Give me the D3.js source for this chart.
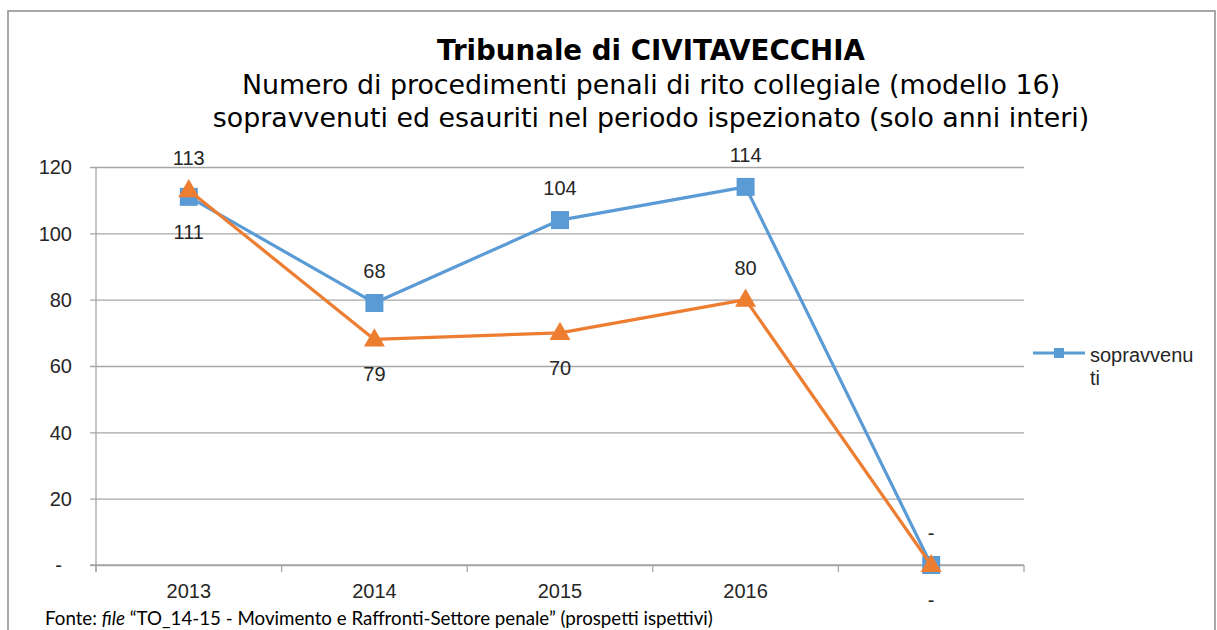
<!DOCTYPE html>
<html>
<head>
<meta charset="utf-8">
<script src="https://cdn.jsdelivr.net/npm/d3@7"></script>
<style>
  html, body { margin: 0; padding: 0; background: #fff; }
  svg { display: block; }
</style>
</head>
<body>
<svg id="chart" width="1217" height="630"></svg>
<script>
// ---------------- DATA ----------------
const categories = ["2013", "2014", "2015", "2016", ""];
const sopravvenuti = [111, 79, 104, 114, 0];
const esauriti = [113, 68, 70, 80, 0];
const yTicks = [0, 20, 40, 60, 80, 100, 120];
// data labels as they appear in the picture, per series
const sopravvenutiLabels = ["111", "68", "104", "114", "-"];
const esauritiLabels = ["113", "79", "70", "80", "-"];
const sopravvenutiLabelSide = ["below", "above", "above", "above", "above"];
const esauritiLabelSide = ["above", "below", "below", "above", "below"];
const titleLines = [
  "Tribunale di CIVITAVECCHIA",
  "Numero di procedimenti penali di rito collegiale (modello 16)",
  "sopravvenuti ed esauriti nel periodo ispezionato (solo anni interi)"
];
const legendLines = ["sopravvenu", "ti"];

// ---------------- LAYOUT ----------------
const svg = d3.select("#chart");
const W = 1217, H = 630;
const plot = { left: 96, right: 1024, top: 167, bottom: 565 };
const BLUE = "#5b9bd5", ORANGE = "#ed7d31", GRID = "#a6a6a6", TXT = "#262626";

// outer frame
svg.append("rect").attr("x", 8).attr("y", 11).attr("width", 1207).attr("height", 640)
  .attr("fill", "none").attr("stroke", "#8c8c8c").attr("stroke-width", 1.5);

const x = d3.scaleBand().domain(categories).range([plot.left, plot.right]).padding(0);
const y = d3.scaleLinear().domain([0, 120]).range([plot.bottom, plot.top]);
const cx = (i) => x(categories[i]) + x.bandwidth() / 2;

// gridlines + y axis
const yAxis = d3.axisLeft(y).tickValues(yTicks)
  .tickSize(plot.right - plot.left + 6)
  .tickFormat(d => d === 0 ? "-" : d3.format("d")(d));
const gy = svg.append("g").attr("transform", `translate(${plot.right},0)`).call(yAxis);
gy.select(".domain").remove();
gy.selectAll(".tick line").attr("stroke", GRID).attr("stroke-width", 1.3);
gy.selectAll(".tick text")
  .attr("x", -(plot.right - plot.left) - 24)
  .attr("font-family", "Liberation Sans, Arial, sans-serif")
  .attr("font-size", 20).attr("fill", TXT)
  .attr("dy", "0.34em");
gy.selectAll(".tick").filter(d => d === 0).select("text").attr("dx", -10);

// vertical axis line
svg.append("line").attr("x1", plot.left).attr("x2", plot.left)
  .attr("y1", plot.top).attr("y2", plot.bottom + 7)
  .attr("stroke", GRID).attr("stroke-width", 1.3);

// x axis with ticks between categories
const boundaries = categories.map((c) => x(c)).concat([plot.right]);
const xAxis = d3.axisBottom(d3.scaleLinear().domain([0, 1]).range([0, 1]));
const gx = svg.append("g").attr("transform", `translate(0,${plot.bottom})`);
gx.append("line").attr("x1", plot.left - 6).attr("x2", plot.right).attr("y1", 0).attr("y2", 0)
  .attr("stroke", GRID).attr("stroke-width", 1.3);
gx.selectAll("line.tk").data(boundaries).join("line").attr("class", "tk")
  .attr("x1", d => d).attr("x2", d => d).attr("y1", 0).attr("y2", 7)
  .attr("stroke", GRID).attr("stroke-width", 1.3);
gx.selectAll("text").data(categories).join("text")
  .attr("x", (d, i) => cx(i)).attr("y", 33)
  .attr("text-anchor", "middle")
  .attr("font-family", "Liberation Sans, Arial, sans-serif")
  .attr("font-size", 20).attr("fill", TXT)
  .text(d => d);

// lines
const line = d3.line().x((d, i) => cx(i)).y(d => y(d));
function drawSeries(vals, color, marker) {
  svg.append("path").datum(vals).attr("d", line)
    .attr("fill", "none").attr("stroke", color).attr("stroke-width", 3.2)
    .attr("stroke-linejoin", "round");
  const sym = marker === "square"
    ? d3.symbol().type(d3.symbolSquare).size(18 * 18)
    : d3.symbol().type(d3.symbolTriangle).size(190);
  svg.selectAll(null).data(vals).join("path")
    .attr("d", sym)
    .attr("transform", (d, i) => `translate(${cx(i)},${y(d) + (marker === "square" ? 0 : 1)})`)
    .attr("fill", color);
}
drawSeries(sopravvenuti, BLUE, "square");
drawSeries(esauriti, ORANGE, "triangle");

// data labels
function drawLabels(vals, labels, sides) {
  svg.selectAll(null).data(vals).join("text")
    .attr("x", (d, i) => cx(i))
    .attr("y", (d, i) => y(d) + (sides[i] === "above" ? -32 : 35))
    .attr("dy", "0.35em")
    .attr("text-anchor", "middle")
    .attr("font-family", "Liberation Sans, Arial, sans-serif")
    .attr("font-size", 20).attr("fill", TXT)
    .text((d, i) => labels[i]);
}
drawLabels(sopravvenuti, sopravvenutiLabels, sopravvenutiLabelSide);
drawLabels(esauriti, esauritiLabels, esauritiLabelSide);

// legend
const lg = svg.append("g").attr("transform", "translate(1033,353)");
lg.append("line").attr("x1", 0).attr("x2", 52).attr("y1", 0).attr("y2", 0)
  .attr("stroke", BLUE).attr("stroke-width", 3.2);
lg.append("path").attr("d", d3.symbol().type(d3.symbolSquare).size(100)())
  .attr("transform", "translate(26,0)").attr("fill", BLUE);
lg.selectAll("text").data(legendLines).join("text")
  .attr("x", 57).attr("y", (d, i) => 9 + i * 23)
  .attr("font-family", "Liberation Sans, Arial, sans-serif")
  .attr("font-size", 20).attr("fill", TXT)
  .text(d => d);

// title
function fit(sel, target) {
  const fs = parseFloat(sel.attr("font-size"));
  const w = sel.node().getComputedTextLength();
  sel.attr("font-size", fs * target / w);
}
const cxTitle = 651;
const t1 = svg.append("text").attr("x", cxTitle).attr("y", 60).attr("text-anchor", "middle")
  .attr("font-family", "DejaVu Sans, Verdana, sans-serif").attr("font-weight", "bold")
  .attr("font-size", 26).attr("fill", "#000").text(titleLines[0]);
fit(t1, 428);
const t3 = svg.append("text").attr("x", cxTitle).attr("y", 127).attr("text-anchor", "middle")
  .attr("font-family", "DejaVu Sans, Verdana, sans-serif")
  .attr("font-size", 24).attr("fill", "#000").text(titleLines[2]);
fit(t3, 877);
const t2 = svg.append("text").attr("x", cxTitle).attr("y", 94).attr("text-anchor", "middle")
  .attr("font-family", "DejaVu Sans, Verdana, sans-serif")
  .attr("font-size", t3.attr("font-size")).attr("fill", "#000").text(titleLines[1]);

// source note
const src = svg.append("text").attr("x", 45).attr("y", 625)
  .attr("font-family", "Lato, Open Sans, sans-serif").attr("font-size", 16).attr("fill", "#000");
src.append("tspan").text("Fonte: ");
src.append("tspan").attr("font-style", "italic").text("file");
src.append("tspan").text(" \u201CTO_14-15 - Movimento e Raffronti-Settore penale\u201D (prospetti ispettivi)");
fit(src, 668);
</script>
</body>
</html>
